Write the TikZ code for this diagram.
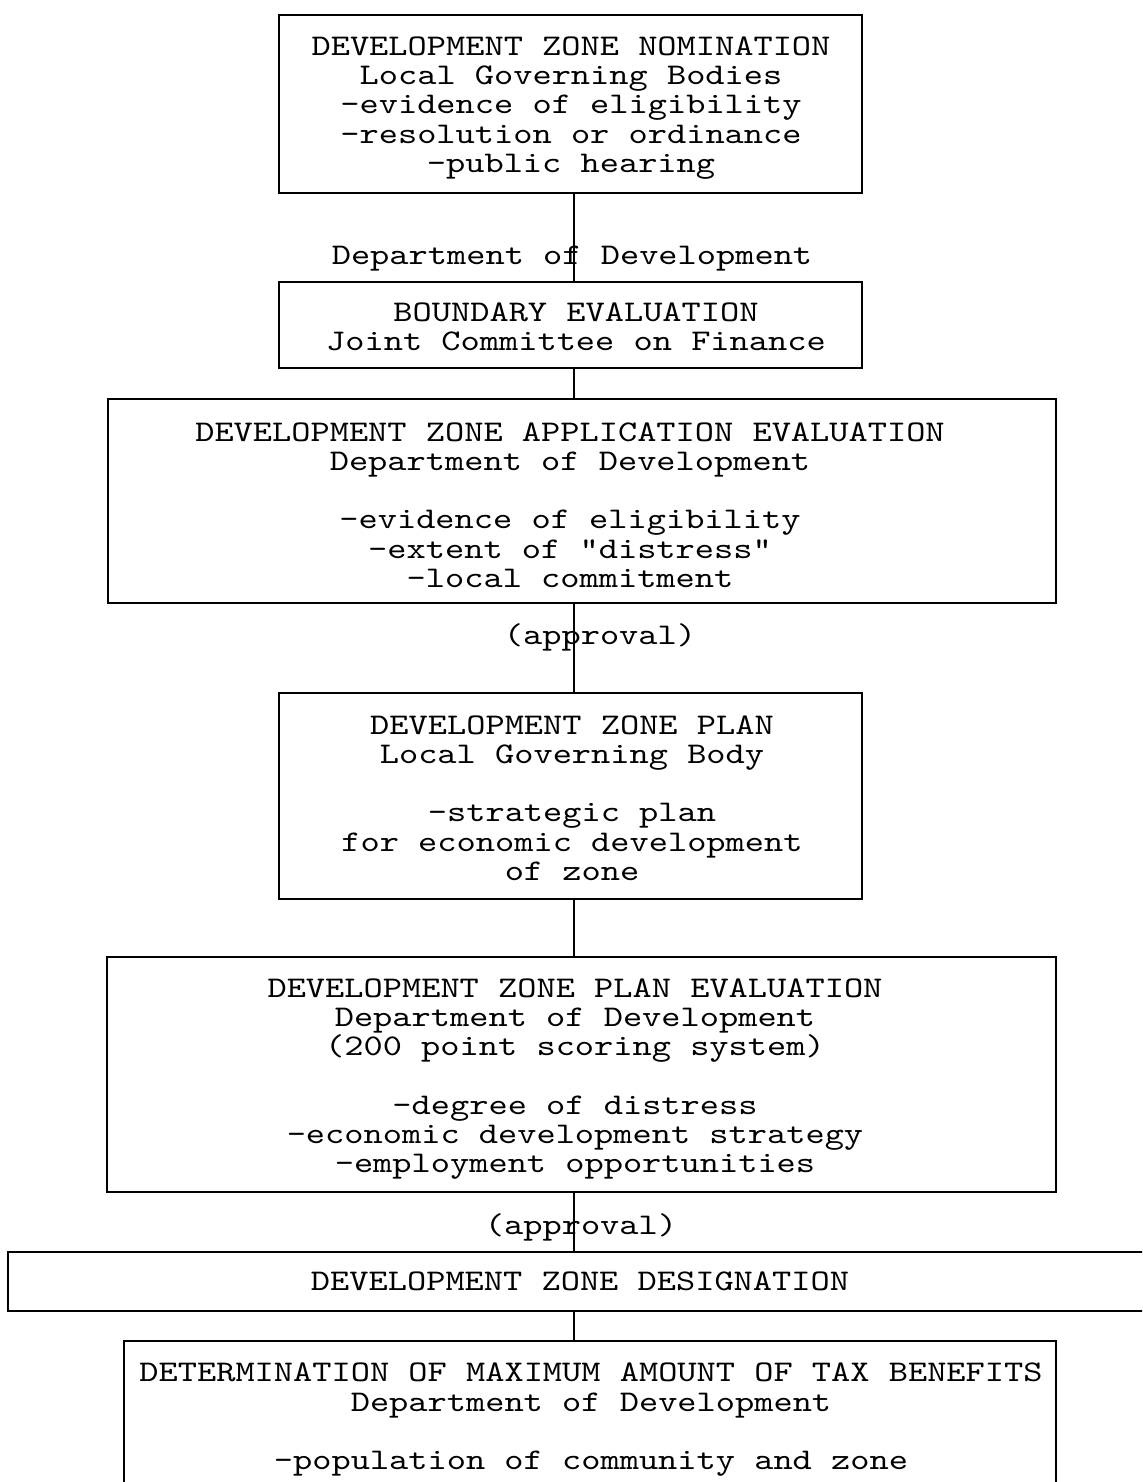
\documentclass[tikz,border=0pt]{standalone}
\usepackage{fontspec}
\setmonofont{lmmono10-regular.otf}[FakeStretch=1.22]
\newcommand\myboxfont{\ttfamily\fontsize{15pt}{14.65pt}\selectfont\lineskiplimit=-30pt\relax\lineskip=0pt\relax}
\begin{document}
\begin{tikzpicture}[x=0.5pt,y=-0.5pt,
  box/.style={draw, line width=1.1pt, inner sep=0pt, outer sep=0pt},
  txt/.style={align=center, inner sep=0pt, font=\myboxfont},
  conn/.style={line width=0.8pt}]
\useasboundingbox (0,0) rectangle (1142,1482);
\clip (0,0) rectangle (1142,1482);
\coordinate (axis) at (574,0);
% boxes
\node[box, minimum width=583pt/2, minimum height=178pt/2] (b1) at (570.5,104) {};
\node[box, minimum width=583pt/2, minimum height=86pt/2] (b2) at (570.5,325) {};
\node[box, minimum width=948pt/2, minimum height=204pt/2] (b3) at (582,501) {};
\node[box, minimum width=583pt/2, minimum height=206pt/2] (b4) at (570.5,796) {};
\node[box, minimum width=949pt/2, minimum height=235pt/2] (b5) at (581.5,1074.5) {};
\node[box, minimum width=1162pt/2, minimum height=59pt/2] (b6) at (589,1281.5) {};
\node[box, minimum width=932pt/2, minimum height=154pt/2] (b7) at (590,1418) {};
% texts
\node[txt] (t1) at (571,108) {DEVELOPMENT ZONE NOMINATION\\Local Governing Bodies\\-evidence of eligibility\\-resolution or ordinance\\-public hearing};
\node[txt] (t2) at (576,327) {BOUNDARY EVALUATION\\Joint Committee on Finance};
\node[txt] (t3) at (570,505) {DEVELOPMENT ZONE APPLICATION EVALUATION\\Department of Development\\[14.65pt]-evidence of eligibility\\-extent of "distress"\\-local commitment};
\node[txt] (t4) at (572,798) {DEVELOPMENT ZONE PLAN\\Local Governing Body\\[14.65pt]-strategic plan\\for economic development\\of zone};
\node[txt] (t5) at (575,1079) {DEVELOPMENT ZONE PLAN EVALUATION\\Department of Development\\(200 point scoring system)\\[14.65pt]-degree of distress\\-economic development strategy\\-employment opportunities};
\node[txt] (t6) at (580,1281) {DEVELOPMENT ZONE DESIGNATION};
\node[txt] (t7) at (591,1420) {DETERMINATION OF MAXIMUM AMOUNT OF TAX BENEFITS\\Department of Development\\[14.65pt]-population of community and zone};
% connector labels
\node[txt] (l1) at (572,259) {Department of Development};
\node[txt] (l2) at (600,637) {(approval)};
\node[txt] (l3) at (581,1227) {(approval)};
% connectors
\draw[conn] (b1.south -| axis) -- (b2.north -| axis);
\draw[conn] (b2.south -| axis) -- (b3.north -| axis);
\draw[conn] (b3.south -| axis) -- (b4.north -| axis);
\draw[conn] (b4.south -| axis) -- (b5.north -| axis);
\draw[conn] (b5.south -| axis) -- (b6.north -| axis);
\draw[conn] (b6.south -| axis) -- (b7.north -| axis);
\end{tikzpicture}
\end{document}
